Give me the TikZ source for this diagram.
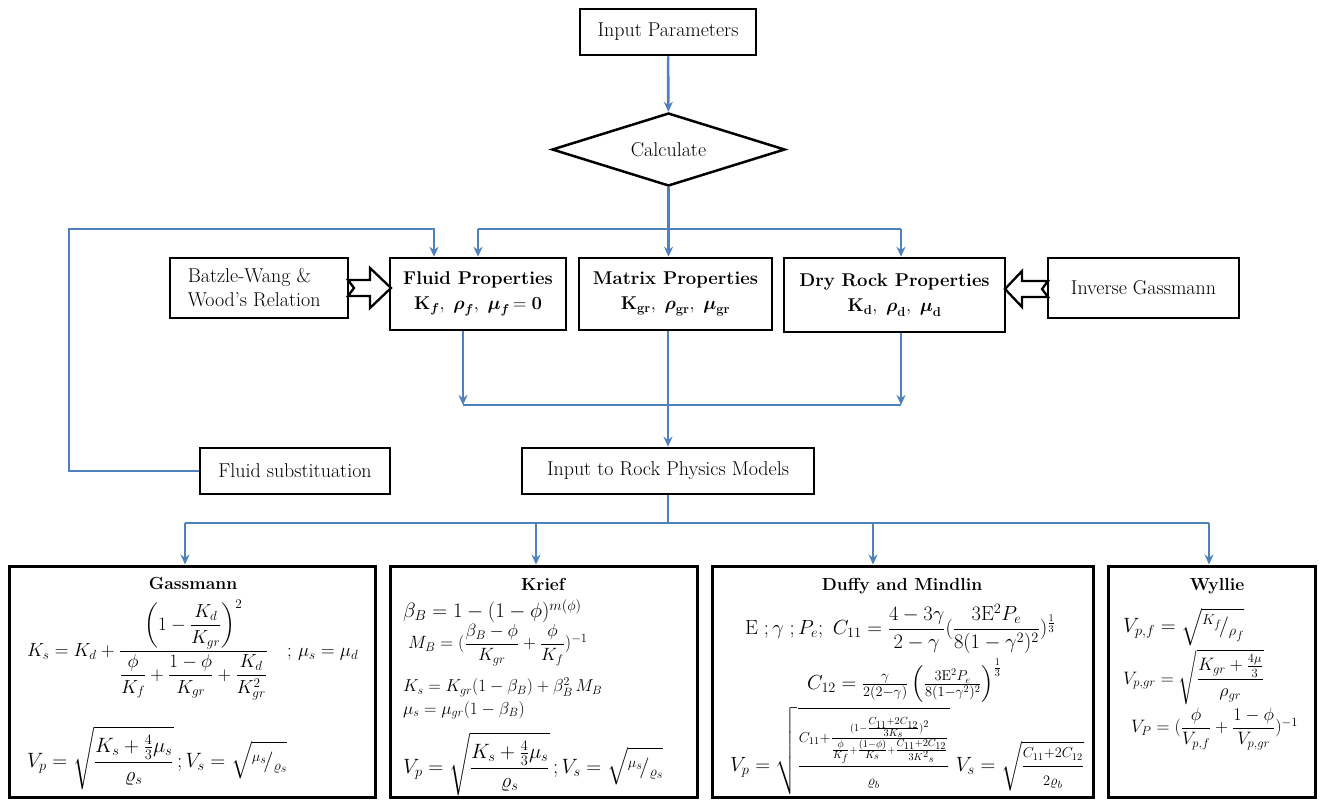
\RequirePackage{fix-cm}
\documentclass[tikz,border=0pt]{standalone}
\usepackage{amsmath,amssymb}
\usetikzlibrary{arrows.meta,shapes.geometric,calc}
\definecolor{lineblue}{RGB}{79,129,189}
\begin{document}
\begin{tikzpicture}[x=1pt,y=-1pt,
  box/.style={draw=black,line width=2.5pt,fill=white,inner sep=0pt,align=center,font=\fontsize{20}{24}\selectfont},
  pbox/.style={box,font=\fontsize{18.5}{25}\selectfont},
  bigbox/.style={draw=black,line width=3pt,fill=white,inner sep=0pt},
  conn/.style={draw=lineblue,line width=2.6pt},
  arr/.style={conn,-{Stealth[length=10pt,width=9pt]}},
  hollow/.style={draw=black,line width=2.3pt,fill=white,line join=miter},
  ttl/.style={inner sep=0pt,font=\bfseries\fontsize{17.5}{20}\selectfont},
  eq/.style={inner sep=0pt,anchor=west,font=\fontsize{17.28}{22}\selectfont},
  eqb/.style={eq,font=\fontsize{20.74}{24}\selectfont}]
\useasboundingbox (0,0) rectangle (1321,800);

% top
\node[box,minimum width=176pt,minimum height=46pt] (inp) at (668,32) {Input Parameters};
\node[draw=black,line width=2.5pt,diamond,aspect=3.2,minimum width=233pt,minimum height=73pt,inner sep=0pt,font=\fontsize{20}{24}\selectfont] (calc) at (668.5,149.5) {Calculate};

% property row
\node[pbox,minimum width=176pt,minimum height=72pt] (fl) at (478,294) {\bfseries Fluid Properties\\ $\mathbf{K}_{\boldsymbol f},\ \boldsymbol\rho_{\boldsymbol f},\ \boldsymbol\mu_{\boldsymbol f}\,\mathbf{=0}$};
\node[pbox,minimum width=193pt,minimum height=72pt] (mat) at (675.5,294) {\bfseries Matrix Properties\\ $\mathbf{K}_{\mathbf{gr}},\ \boldsymbol\rho_{\mathbf{gr}},\ \boldsymbol\mu_{\mathbf{gr}}$};
\node[pbox,minimum width=221pt,minimum height=74pt] (dry) at (894.5,295) {\bfseries Dry Rock Properties\\ $\mathbf{K}_{\mathbf d},\ \boldsymbol\rho_{\mathbf d},\ \boldsymbol\mu_{\mathbf d}$};
\node[box,minimum width=178pt,minimum height=60pt,align=left] (bw) at (259,288) {Batzle-Wang \&\\ Wood's Relation\hphantom{x}};
\node[box,minimum width=191pt,minimum height=60pt] (ig) at (1143.5,288) {Inverse Gassmann};

% hollow arrows
\draw[hollow] (348,280) -- (370,280) -- (370,268) -- (391,288) -- (370,308) -- (370,296) -- (348,296) -- (354,288) -- cycle;
\draw[hollow] (1048,281) -- (1022,281) -- (1022,271) -- (1005,289) -- (1022,307) -- (1022,297) -- (1048,297) -- (1042,289) -- cycle;

% middle row
\node[box,minimum width=190pt,minimum height=46pt] (fs) at (295,471) {Fluid substituation};
\node[box,minimum width=292pt,minimum height=46pt] (rock) at (668,471) {Input to Rock Physics Models};

% bottom boxes
\node[bigbox,minimum width=366pt,minimum height=231pt] (gas) at (192,681.5) {};
\node[bigbox,minimum width=307pt,minimum height=231pt] (kr) at (543.5,681.5) {};
\node[bigbox,minimum width=381pt,minimum height=231pt] (du) at (902.5,681.5) {};
\node[bigbox,minimum width=207pt,minimum height=231pt] (wy) at (1211.5,681.5) {};

% connectors
\coordinate (tl) at (478,229);
\coordinate (tr) at (901,229);
\coordinate (lpA) at (69,229);
\coordinate (lpB) at (434,229);
\draw[arr] (inp) -- (calc);
\draw[arr] (calc.south) -- (calc.south |- mat.north);
\draw[conn] (tl) -- (tr);
\draw[arr] (tl) -- (tl |- fl.north);
\draw[arr] (tr) -- (tr |- dry.north);
\draw[arr] (fs.west) -- (lpA |- fs.west) -- (lpA) -- (lpB) -- (lpB |- fl.north);

\coordinate (ml) at (463,405);
\coordinate (mr) at (901,405);
\draw[arr] (ml |- fl.south) -- (ml);
\draw[arr] (mr |- dry.south) -- (mr);
\draw[conn] (ml) -- (mr);
\draw[arr] (668,0 |- mat.south) -- (668,0 |- rock.north);

\coordinate (b1) at (185,523);
\coordinate (b2) at (536,523);
\coordinate (b3) at (873,523);
\coordinate (b4) at (1209,523);
\draw[conn] (rock.south) -- (rock.south |- b1);
\draw[conn] (b1) -- (b4);
\draw[arr] (b1) -- (b1 |- gas.north);
\draw[arr] (b2) -- (b2 |- kr.north);
\draw[arr] (b3) -- (b3 |- du.north);
\draw[arr] (b4) -- (b4 |- wy.north);

% Gassmann
\node[ttl] (gt) at (193,583) {Gassmann};
\node[eq,font=\fontsize{18.9}{23}\selectfont] (g1) at (27,650) {$\displaystyle K_s = K_d + \frac{\left(1-\dfrac{K_d}{K_{gr}}\right)^2}{\dfrac{\phi}{K_f}+\dfrac{1-\phi}{K_{gr}}+\dfrac{K_d}{K_{gr}^2}}\quad ;\,\mu_s=\mu_d$};
\node[eqb] (g2) at (27,758) {$\displaystyle V_p=\sqrt{\frac{K_s+\frac{4}{3}\mu_s}{\varrho_s}}\,;V_s=\sqrt{{}^{\mu_s}\!/{}_{\varrho_s}}$};

% Krief
\node[ttl] (kt) at (543,584) {Krief};
\node[eqb] (k1) at (403,611) {$\beta_B=1-(1-\phi)^{m(\phi)}$};
\node[eq,font=\fontsize{17.8}{22}\selectfont] (k2) at (408,645) {$M_B=(\dfrac{\beta_B-\phi}{K_{gr}}+\dfrac{\phi}{K_f})^{-1}$};
\node[eq] (k3) at (403,687) {$K_s=K_{gr}(1-\beta_B)+\beta_B^2\,M_B$};
\node[eq] (k4) at (403,710) {$\mu_s=\mu_{gr}(1-\beta_B)$};
\node[eqb] (k5) at (403,764) {$\displaystyle V_p=\sqrt{\frac{K_s+\frac{4}{3}\mu_s}{\varrho_s}}\,;V_s=\sqrt{{}^{\mu_s}\!/{}_{\varrho_s}}$};

% Duffy and Mindlin
\node[ttl] (dt) at (902,586) {Duffy and Mindlin};
\node[eq,font=\fontsize{20.5}{24}\selectfont] (d1) at (745,629) {$\mathrm{E}\;;\gamma\;;P_e;\ C_{11}=\dfrac{4-3\gamma}{2-\gamma}(\dfrac{3\mathrm{E}^2P_e}{8(1-\gamma^2)^2})^{\frac{1}{3}}$};
\node[eq,font=\fontsize{20.4}{24}\selectfont] (d2) at (807,681) {$C_{12}=\frac{\gamma}{2(2-\gamma)}\left(\frac{3\mathrm{E}^2P_e}{8(1-\gamma^2)^2}\right)^{\frac{1}{3}}$};
\node[eq,font=\fontsize{20.6}{24}\selectfont] (d3) at (730,751) {$\displaystyle V_p=\sqrt{\frac{\scriptstyle C_{11}+\frac{(1-\frac{C_{11}+2C_{12}}{3K_s})^2}{\frac{\phi}{K_f}+\frac{(1-\phi)}{K_s}+\frac{C_{11}+2C_{12}}{3K^2{}_s}}}{\scriptstyle\varrho_b}}\ V_s=\sqrt{\frac{\scriptstyle C_{11}+2C_{12}}{\scriptstyle 2\varrho_b}}$};

% Wyllie
\node[ttl] (wt) at (1217,586) {Wyllie};
\node[eqb] (w1) at (1123,627) {$V_{p,f}=\sqrt{{}^{K_f}\!/{}_{\rho_f}}$};
\node[eq,font=\fontsize{18}{22}\selectfont] (w2) at (1123,677) {$V_{p,gr}=\sqrt{\dfrac{K_{gr}+\frac{4\mu}{3}}{\rho_{gr}}}$};
\node[eq,font=\fontsize{18}{22}\selectfont] (w3) at (1131,729) {$V_P=(\dfrac{\phi}{V_{p,f}}+\dfrac{1-\phi}{V_{p,gr}})^{-1}$};
\end{tikzpicture}
\end{document}
